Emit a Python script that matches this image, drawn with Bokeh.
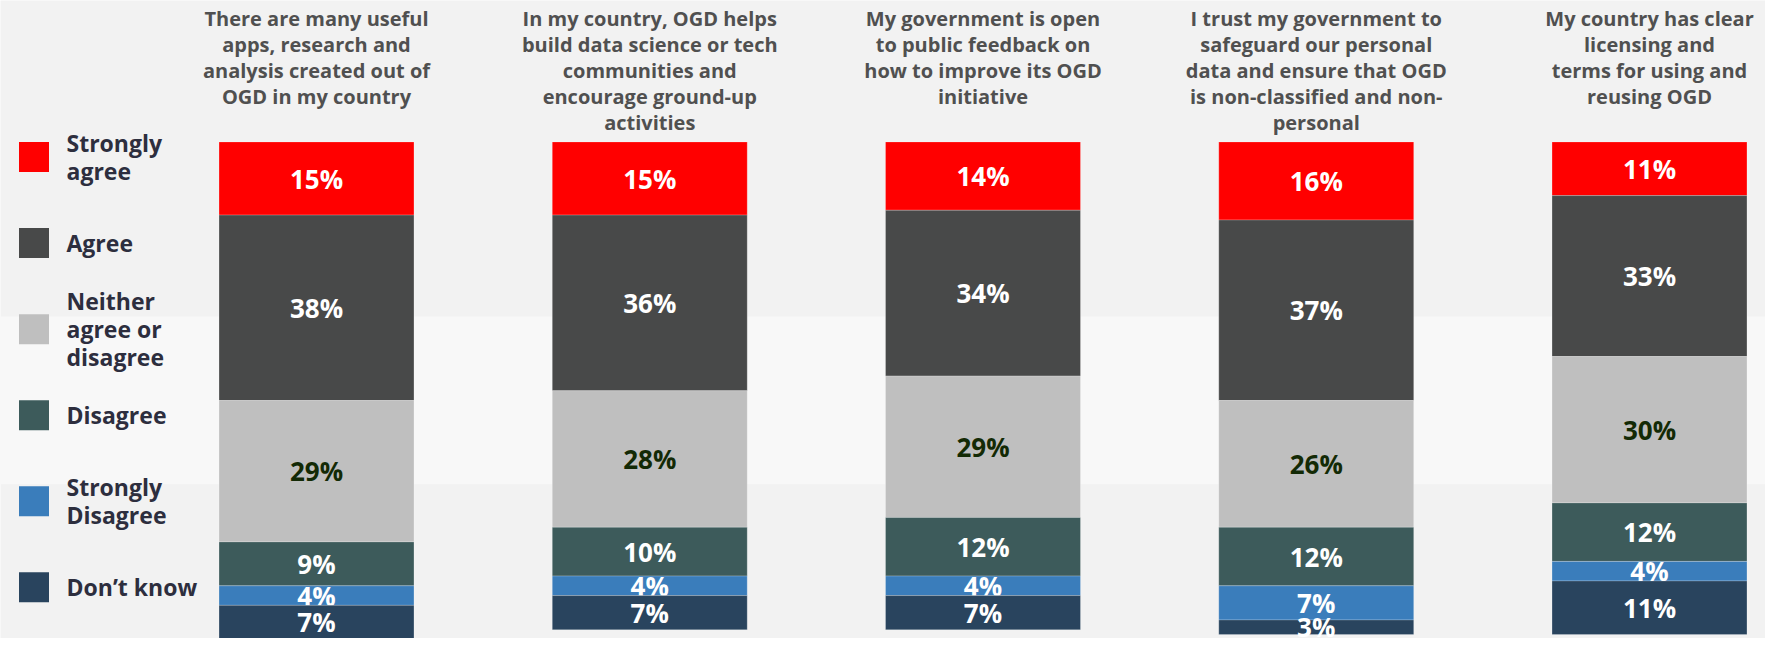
from bokeh.plotting import figure
from bokeh.models import Range1d, BoxAnnotation, ColumnDataSource
from bokeh.core.properties import value
from bokeh.embed import file_html
from bokeh.resources import INLINE

# ---------------- data ----------------
statements = [
    "There are many useful\napps, research and\nanalysis created out of\nOGD in my country",
    "In my country, OGD helps\nbuild data science or tech\ncommunities and\nencourage ground-up\nactivities",
    "My government is open\nto public feedback on\nhow to improve its OGD\ninitiative",
    "I trust my government to\nsafeguard our personal\ndata and ensure that OGD\nis non-classified and non-\npersonal",
    "My country has clear\nlicensing and\nterms for using and\nreusing OGD",
]
levels = ["Strongly\nagree", "Agree", "Neither\nagree or\ndisagree", "Disagree",
          "Strongly\nDisagree", "Don\u2019t know"]
strongly_agree = [15, 15, 14, 16, 11]
agree = [38, 36, 34, 37, 33]
neither = [29, 28, 29, 26, 30]
disagree = [9, 10, 12, 12, 12]
strongly_disagree = [4, 4, 4, 7, 4]
dont_know = [7, 7, 7, 3, 11]

series = [strongly_agree, agree, neither, disagree, strongly_disagree, dont_know]
colors = ["#ff0000", "#484949", "#bfbfbf", "#3d5b5b", "#3a7dbb", "#29445e"]
label_colors = ["#ffffff", "#ffffff", "#132a05", "#ffffff", "#ffffff", "#ffffff"]

# ---------------- layout ----------------
W, H = 1765, 638
REF_W, REF_H = 1781, 654
STEP = 333.25        # reference pixels per category step
X_C0 = 316           # reference x of first bar centre
PX_PCT = 5.0         # reference pixels per percent
Y_100 = 145          # reference y of the bar tops


def fx(px):
    return (px - X_C0) / STEP


def fy(py):
    return 100 - (py - Y_100) / PX_PCT


p = figure(width=W, height=H, output_backend="svg", toolbar_location=None,
           x_range=Range1d(fx(0), fx(W)), y_range=Range1d(fy(REF_H), fy(0)),
           x_axis_location=None, y_axis_location=None, min_border=0)
p.grid.visible = False
p.outline_line_color = None
p.background_fill_color = "#f2f2f2"
p.border_fill_color = "#f2f2f2"

# lighter horizontal band
p.add_layout(BoxAnnotation(top=fy(324), bottom=fy(496), fill_color="#f8f8f8",
                           fill_alpha=1.0, line_color=None, level="underlay"))

xs = list(range(len(statements)))
cum = [0] * len(xs)
for k, vals in enumerate(series):
    tops = [100 - c for c in cum]
    bottoms = [t - v for t, v in zip(tops, vals)]
    mids = [(t + b) / 2 for t, b in zip(tops, bottoms)]
    src = ColumnDataSource(dict(x=xs, top=tops, bottom=bottoms, mid=mids,
                                lab=[f"{v}%" for v in vals]))
    p.vbar(x="x", top="top", bottom="bottom", width=0.585, source=src,
           fill_color=colors[k], line_color="#ffffff", line_alpha=0.22, line_width=1)
    p.text(x="x", y="mid", text="lab", source=src, text_align="center",
           text_baseline="middle", text_font=value("Open Sans"),
           text_font_style="bold", text_font_size="26px", text_color=label_colors[k])
    cum = [c + v for c, v in zip(cum, vals)]

# statement titles
p.text(x=xs, y=[fy(5)] * len(xs), text=statements, text_align="center",
       text_baseline="top", text_font=value("Open Sans"), text_font_style="bold",
       text_font_size="20px", text_color="#505050", text_line_height=0.96)

# legend
leg_y = [fy(160.5 + i * 88.2) for i in range(len(levels))]
p.rect(x=[fx(33.5)] * len(levels), y=leg_y, width=30, height=30,
       width_units="screen", height_units="screen", fill_color=colors, line_color=None)
p.text(x=[fx(66)] * len(levels), y=leg_y, text=levels, text_align="left",
       text_baseline="middle", text_font=value("Open Sans"), text_font_style="bold",
       text_font_size="23px", text_color="#2d2e3e", text_line_height=0.88)

open("out.html", "w").write(file_html(p, INLINE))
